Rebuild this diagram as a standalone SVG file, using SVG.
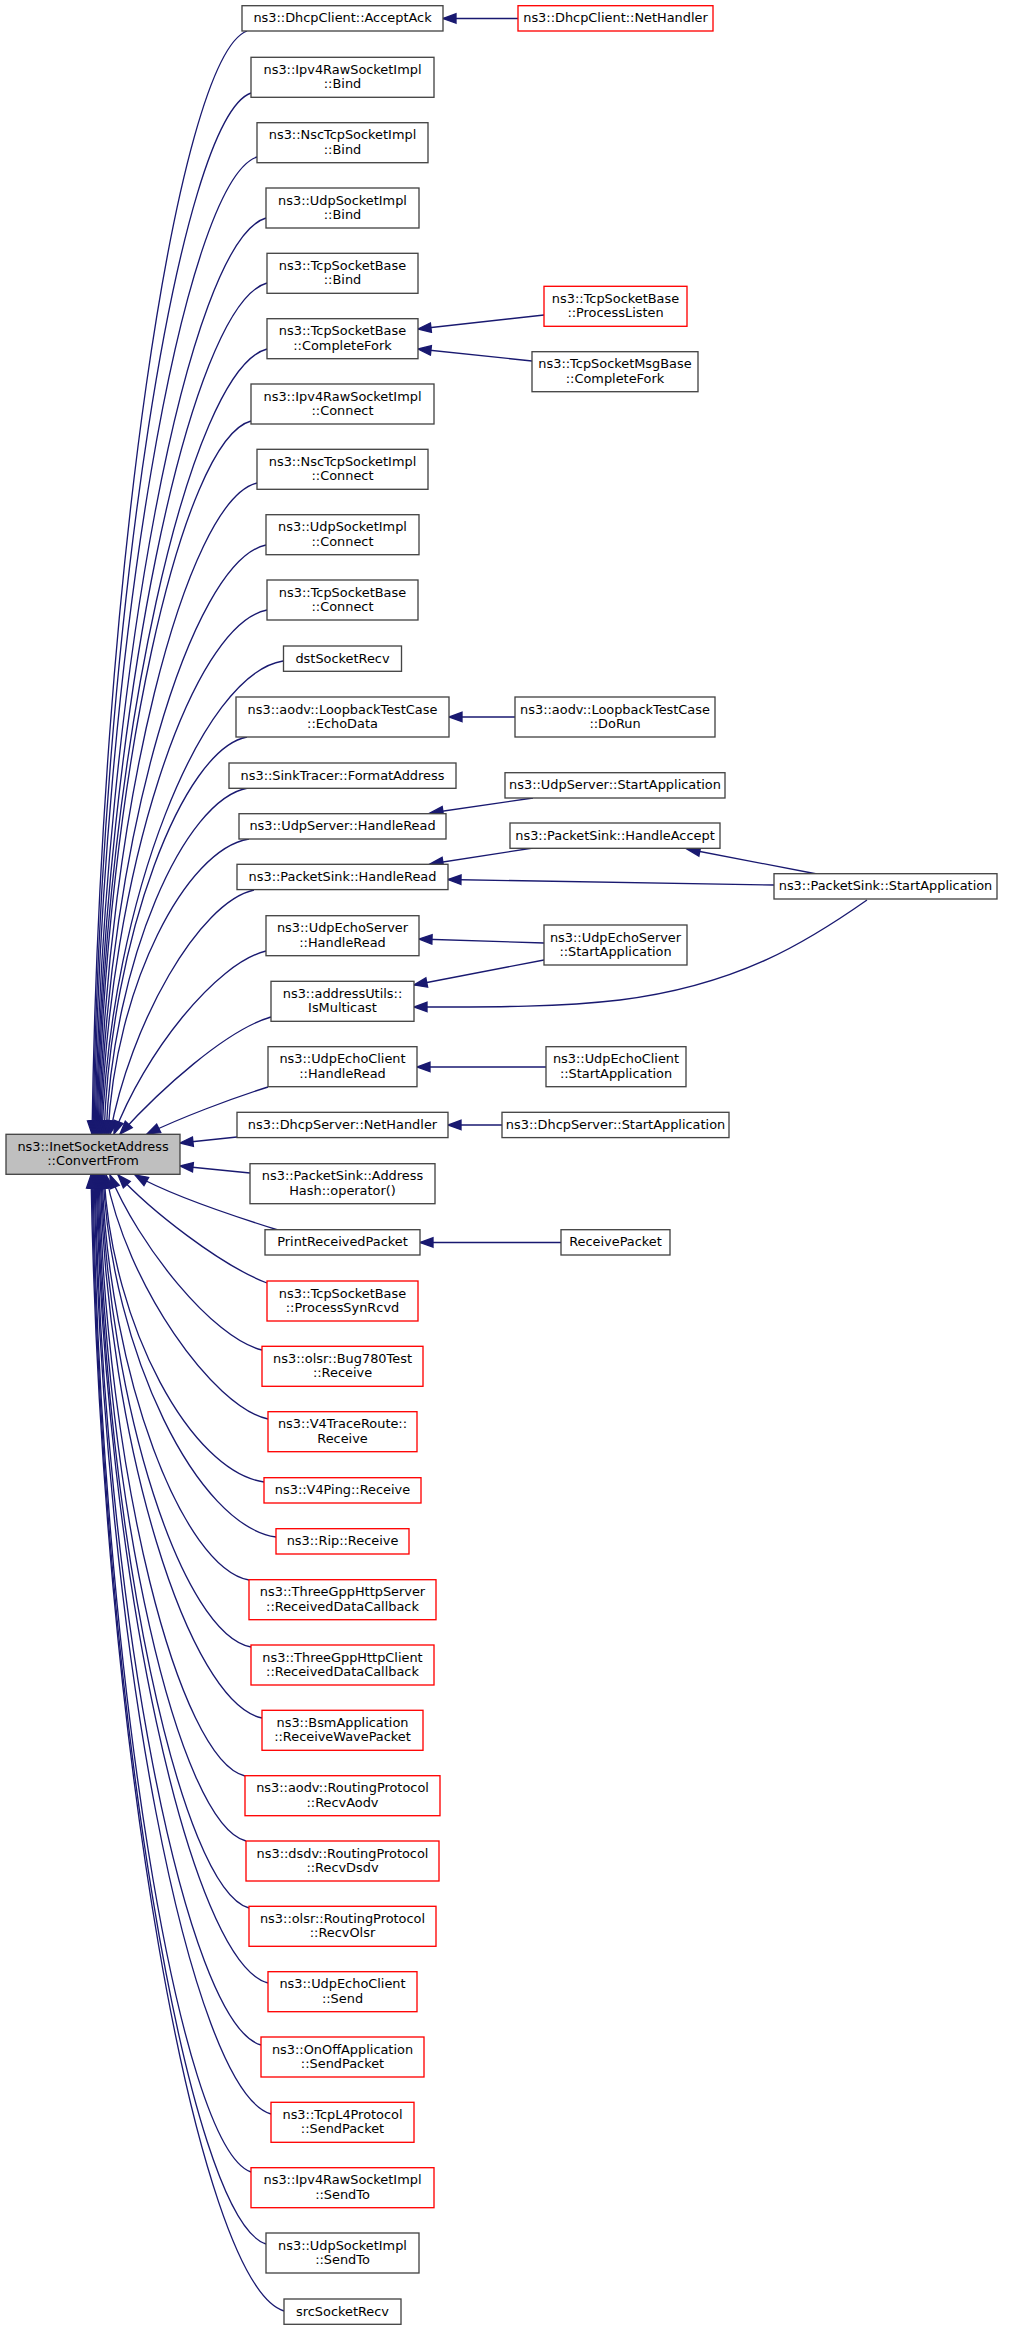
<svg xmlns="http://www.w3.org/2000/svg" width="1035" height="2331" viewBox="0 0 1035 2331">
<style>
.e{fill:none;stroke:#191970;stroke-width:1.33;marker-end:url(#ah)}
.b rect{fill:#fff;stroke:#444;stroke-width:1.33}
.r rect{fill:#fff;stroke:#ff0000;stroke-width:1.33}
.m rect{fill:#bfbfbf;stroke:#444;stroke-width:1.33}
text{font-family:"DejaVu Sans","Liberation Sans",sans-serif;font-size:12.9px;text-anchor:middle;fill:#000}
</style>
<defs>
<marker id="ah" markerUnits="userSpaceOnUse" markerWidth="16" markerHeight="12" refX="13" refY="5" orient="auto" overflow="visible"><path d="M0,0.3 L13,5 L0,9.7 z" fill="#191970" stroke="#191970" stroke-width="1.33"/></marker>
</defs>
<rect width="1035" height="2331" fill="#fff"/>
<g id="edges">
<path class="e" d="M247,31 C177,57 100,582 92,1134"/>
<path class="e" d="M251,93 C180,118 101,614 93,1134"/>
<path class="e" d="M257,157 C184,181 102,646 94,1134"/>
<path class="e" d="M266,218 C189,240 104,676 95,1134"/>
<path class="e" d="M267,283 C190,304 105,709 96,1134"/>
<path class="e" d="M267,349 C190,369 105,742 97,1134"/>
<path class="e" d="M251,421 C182,439 106,778 98,1134"/>
<path class="e" d="M257,483 C186,500 107,809 99,1134"/>
<path class="e" d="M266,545 C191,561 108,840 100,1134"/>
<path class="e" d="M267,610 C192,624 109,872 101,1134"/>
<path class="e" d="M283,661 C202,674 111,898 102,1134"/>
<path class="e" d="M247,737 C183,749 111,936 104,1134"/>
<path class="e" d="M248,788 C184,799 113,961 106,1134"/>
<path class="e" d="M249,839 C186,849 115,986 108,1134"/>
<path class="e" d="M254,890 C199,902 130,1024 110,1134"/>
<path class="e" d="M266,951 C216,963 144,1054 114,1134"/>
<path class="e" d="M271,1017 C226,1030 160,1090 120,1134"/>
<path class="e" d="M268,1087 C230,1099 180,1118 147,1134"/>
<path class="e" d="M237,1137 L180,1143"/>
<path class="e" d="M250,1173 L180,1166"/>
<path class="e" d="M278,1230 C230,1215 170,1195 135,1175"/>
<path class="e" d="M267,1283 C220,1265 150,1210 118,1175"/>
<path class="e" d="M262,1350 C212,1338 138,1244 110,1175"/>
<path class="e" d="M268,1419 C213,1407 126,1284 106,1175"/>
<path class="e" d="M264,1482 C192,1472 112,1328 104,1175"/>
<path class="e" d="M276,1537 C198,1526 112,1355 103,1175"/>
<path class="e" d="M249,1580 C183,1568 109,1377 102,1175"/>
<path class="e" d="M251,1647 C183,1634 109,1410 101,1175"/>
<path class="e" d="M262,1718 C189,1703 108,1446 100,1175"/>
<path class="e" d="M245,1776 C179,1760 106,1475 99,1175"/>
<path class="e" d="M246,1841 C179,1824 105,1507 98,1175"/>
<path class="e" d="M249,1908 C181,1889 105,1541 97,1175"/>
<path class="e" d="M268,1983 C191,1963 105,1578 96,1175"/>
<path class="e" d="M261,2045 C186,2024 103,1609 95,1175"/>
<path class="e" d="M271,2114 C191,2091 103,1644 94,1175"/>
<path class="e" d="M251,2172 C180,2148 101,1673 93,1175"/>
<path class="e" d="M266,2244 C188,2219 101,1709 92,1175"/>
<path class="e" d="M284,2311 C197,2284 101,1742 91,1175"/>
<path class="e" d="M518,18.5 L443,18.5"/>
<path class="e" d="M544,315 L418,329"/>
<path class="e" d="M532,361 L418,349"/>
<path class="e" d="M515,717 L449,717"/>
<path class="e" d="M533,798 L430,813"/>
<path class="e" d="M533,848 L430,864"/>
<path class="e" d="M774,885 L448,879.5"/>
<path class="e" d="M817,874 L687,849"/>
<path class="e" d="M544,943 L419,939"/>
<path class="e" d="M544,960 L414,985"/>
<path class="e" d="M867,900 C810,940 740,985 620,1000 C560,1007 500,1007 414,1007"/>
<path class="e" d="M546,1067 L417,1067"/>
<path class="e" d="M502,1125 L448,1125"/>
<path class="e" d="M561,1242.5 L420,1242.5"/>
</g>
<g id="n-main" class="m"><rect x="6" y="1134.3" width="174" height="40"/><text x="93" y="1150.8">ns3::InetSocketAddress</text><text x="93" y="1165.1">::ConvertFrom</text></g>
<g id="n-acceptack" class="b"><rect x="242" y="5.7" width="201" height="25.3"/><text x="342.5" y="22.2">ns3::DhcpClient::AcceptAck</text></g>
<g id="n-ipv4bind" class="b"><rect x="251" y="57.3" width="183" height="40"/><text x="342.5" y="73.8">ns3::Ipv4RawSocketImpl</text><text x="342.5" y="88.1">::Bind</text></g>
<g id="n-nscbind" class="b"><rect x="257" y="122.7" width="171" height="40"/><text x="342.5" y="139.2">ns3::NscTcpSocketImpl</text><text x="342.5" y="153.5">::Bind</text></g>
<g id="n-udpbind" class="b"><rect x="266" y="188" width="153" height="40"/><text x="342.5" y="204.5">ns3::UdpSocketImpl</text><text x="342.5" y="218.8">::Bind</text></g>
<g id="n-tcpbind" class="b"><rect x="267" y="253.3" width="151" height="40"/><text x="342.5" y="269.8">ns3::TcpSocketBase</text><text x="342.5" y="284.1">::Bind</text></g>
<g id="n-completefork" class="b"><rect x="267" y="318.7" width="151" height="40"/><text x="342.5" y="335.2">ns3::TcpSocketBase</text><text x="342.5" y="349.5">::CompleteFork</text></g>
<g id="n-ipv4connect" class="b"><rect x="251" y="384" width="183" height="40"/><text x="342.5" y="400.5">ns3::Ipv4RawSocketImpl</text><text x="342.5" y="414.8">::Connect</text></g>
<g id="n-nscconnect" class="b"><rect x="257" y="449.3" width="171" height="40"/><text x="342.5" y="465.8">ns3::NscTcpSocketImpl</text><text x="342.5" y="480.1">::Connect</text></g>
<g id="n-udpconnect" class="b"><rect x="266" y="514.7" width="153" height="40"/><text x="342.5" y="531.2">ns3::UdpSocketImpl</text><text x="342.5" y="545.5">::Connect</text></g>
<g id="n-tcpconnect" class="b"><rect x="267" y="580" width="151" height="40"/><text x="342.5" y="596.5">ns3::TcpSocketBase</text><text x="342.5" y="610.8">::Connect</text></g>
<g id="n-dstsocketrecv" class="b"><rect x="283.5" y="646" width="118" height="25.3"/><text x="342.5" y="662.5">dstSocketRecv</text></g>
<g id="n-echodata" class="b"><rect x="236" y="697" width="213" height="40"/><text x="342.5" y="713.5">ns3::aodv::LoopbackTestCase</text><text x="342.5" y="727.8">::EchoData</text></g>
<g id="n-formataddress" class="b"><rect x="229" y="763" width="227" height="25.3"/><text x="342.5" y="779.5">ns3::SinkTracer::FormatAddress</text></g>
<g id="n-udpserverhandleread" class="b"><rect x="239" y="813.7" width="207" height="25.3"/><text x="342.5" y="830.2">ns3::UdpServer::HandleRead</text></g>
<g id="n-packetsinkhandleread" class="b"><rect x="237" y="864.3" width="211" height="25.3"/><text x="342.5" y="880.8">ns3::PacketSink::HandleRead</text></g>
<g id="n-udpechoserverhandleread" class="b"><rect x="266" y="915.7" width="153" height="40"/><text x="342.5" y="932.2">ns3::UdpEchoServer</text><text x="342.5" y="946.5">::HandleRead</text></g>
<g id="n-ismulticast" class="b"><rect x="271" y="981.3" width="143" height="40"/><text x="342.5" y="997.8">ns3::addressUtils::</text><text x="342.5" y="1012.1">IsMulticast</text></g>
<g id="n-udpechoclienthandleread" class="b"><rect x="268" y="1046.7" width="149" height="40"/><text x="342.5" y="1063.2">ns3::UdpEchoClient</text><text x="342.5" y="1077.5">::HandleRead</text></g>
<g id="n-dhcpservernethandler" class="b"><rect x="237" y="1112.3" width="211" height="25.3"/><text x="342.5" y="1128.8">ns3::DhcpServer::NetHandler</text></g>
<g id="n-addresshash" class="b"><rect x="250" y="1163.7" width="185" height="40"/><text x="342.5" y="1180.2">ns3::PacketSink::Address</text><text x="342.5" y="1194.5">Hash::operator()</text></g>
<g id="n-printreceivedpacket" class="b"><rect x="265" y="1229.7" width="155" height="25.3"/><text x="342.5" y="1246.2">PrintReceivedPacket</text></g>
<g id="n-processsynrcvd" class="r"><rect x="267" y="1281" width="151" height="40"/><text x="342.5" y="1297.5">ns3::TcpSocketBase</text><text x="342.5" y="1311.8">::ProcessSynRcvd</text></g>
<g id="n-bug780" class="r"><rect x="262" y="1346.3" width="161" height="40"/><text x="342.5" y="1362.8">ns3::olsr::Bug780Test</text><text x="342.5" y="1377.1">::Receive</text></g>
<g id="n-v4traceroute" class="r"><rect x="268" y="1411.7" width="149" height="40"/><text x="342.5" y="1428.2">ns3::V4TraceRoute::</text><text x="342.5" y="1442.5">Receive</text></g>
<g id="n-v4ping" class="r"><rect x="264" y="1477.7" width="157" height="25.3"/><text x="342.5" y="1494.2">ns3::V4Ping::Receive</text></g>
<g id="n-rip" class="r"><rect x="276" y="1528.7" width="133" height="25.3"/><text x="342.5" y="1545.2">ns3::Rip::Receive</text></g>
<g id="n-httpserver" class="r"><rect x="249" y="1579.7" width="187" height="40"/><text x="342.5" y="1596.2">ns3::ThreeGppHttpServer</text><text x="342.5" y="1610.5">::ReceivedDataCallback</text></g>
<g id="n-httpclient" class="r"><rect x="251" y="1645" width="183" height="40"/><text x="342.5" y="1661.5">ns3::ThreeGppHttpClient</text><text x="342.5" y="1675.8">::ReceivedDataCallback</text></g>
<g id="n-bsm" class="r"><rect x="262" y="1710.3" width="161" height="40"/><text x="342.5" y="1726.8">ns3::BsmApplication</text><text x="342.5" y="1741.1">::ReceiveWavePacket</text></g>
<g id="n-recvaodv" class="r"><rect x="245" y="1775.7" width="195" height="40"/><text x="342.5" y="1792.2">ns3::aodv::RoutingProtocol</text><text x="342.5" y="1806.5">::RecvAodv</text></g>
<g id="n-recvdsdv" class="r"><rect x="246" y="1841" width="193" height="40"/><text x="342.5" y="1857.5">ns3::dsdv::RoutingProtocol</text><text x="342.5" y="1871.8">::RecvDsdv</text></g>
<g id="n-recvolsr" class="r"><rect x="249" y="1906.3" width="187" height="40"/><text x="342.5" y="1922.8">ns3::olsr::RoutingProtocol</text><text x="342.5" y="1937.1">::RecvOlsr</text></g>
<g id="n-udpechoclientsend" class="r"><rect x="268" y="1971.7" width="149" height="40"/><text x="342.5" y="1988.2">ns3::UdpEchoClient</text><text x="342.5" y="2002.5">::Send</text></g>
<g id="n-onoffsendpacket" class="r"><rect x="261" y="2037" width="163" height="40"/><text x="342.5" y="2053.5">ns3::OnOffApplication</text><text x="342.5" y="2067.8">::SendPacket</text></g>
<g id="n-tcpl4sendpacket" class="r"><rect x="271" y="2102.3" width="143" height="40"/><text x="342.5" y="2118.8">ns3::TcpL4Protocol</text><text x="342.5" y="2133.1">::SendPacket</text></g>
<g id="n-ipv4sendto" class="r"><rect x="251" y="2167.7" width="183" height="40"/><text x="342.5" y="2184.2">ns3::Ipv4RawSocketImpl</text><text x="342.5" y="2198.5">::SendTo</text></g>
<g id="n-udpsendto" class="b"><rect x="266" y="2233" width="153" height="40"/><text x="342.5" y="2249.5">ns3::UdpSocketImpl</text><text x="342.5" y="2263.8">::SendTo</text></g>
<g id="n-srcsocketrecv" class="b"><rect x="284" y="2299" width="117" height="25.3"/><text x="342.5" y="2315.5">srcSocketRecv</text></g>
<g id="n-dhcpclientnethandler" class="r"><rect x="518" y="5.7" width="195" height="25.3"/><text x="615.5" y="22.2">ns3::DhcpClient::NetHandler</text></g>
<g id="n-processlisten" class="r"><rect x="544" y="286.3" width="143" height="40"/><text x="615.5" y="302.8">ns3::TcpSocketBase</text><text x="615.5" y="317.1">::ProcessListen</text></g>
<g id="n-msgbasecompletefork" class="b"><rect x="532" y="351.7" width="166" height="40"/><text x="615" y="368.2">ns3::TcpSocketMsgBase</text><text x="615" y="382.5">::CompleteFork</text></g>
<g id="n-dorun" class="b"><rect x="515" y="697" width="200" height="40"/><text x="615" y="713.5">ns3::aodv::LoopbackTestCase</text><text x="615" y="727.8">::DoRun</text></g>
<g id="n-udpserverstart" class="b"><rect x="505" y="772.7" width="220" height="25.3"/><text x="615" y="789.2">ns3::UdpServer::StartApplication</text></g>
<g id="n-handleaccept" class="b"><rect x="510" y="823" width="210" height="25.3"/><text x="615" y="839.5">ns3::PacketSink::HandleAccept</text></g>
<g id="n-packetsinkstart" class="b"><rect x="774" y="873.7" width="223" height="25.3"/><text x="885.5" y="890.2">ns3::PacketSink::StartApplication</text></g>
<g id="n-udpechoserverstart" class="b"><rect x="544" y="925" width="143" height="40"/><text x="615.5" y="941.5">ns3::UdpEchoServer</text><text x="615.5" y="955.8">::StartApplication</text></g>
<g id="n-udpechoclientstart" class="b"><rect x="546" y="1046.7" width="140" height="40"/><text x="616" y="1063.2">ns3::UdpEchoClient</text><text x="616" y="1077.5">::StartApplication</text></g>
<g id="n-dhcpserverstart" class="b"><rect x="502" y="1112.3" width="227" height="25.3"/><text x="615.5" y="1128.8">ns3::DhcpServer::StartApplication</text></g>
<g id="n-receivepacket" class="b"><rect x="561" y="1229.7" width="109" height="25.3"/><text x="615.5" y="1246.2">ReceivePacket</text></g>
</svg>
